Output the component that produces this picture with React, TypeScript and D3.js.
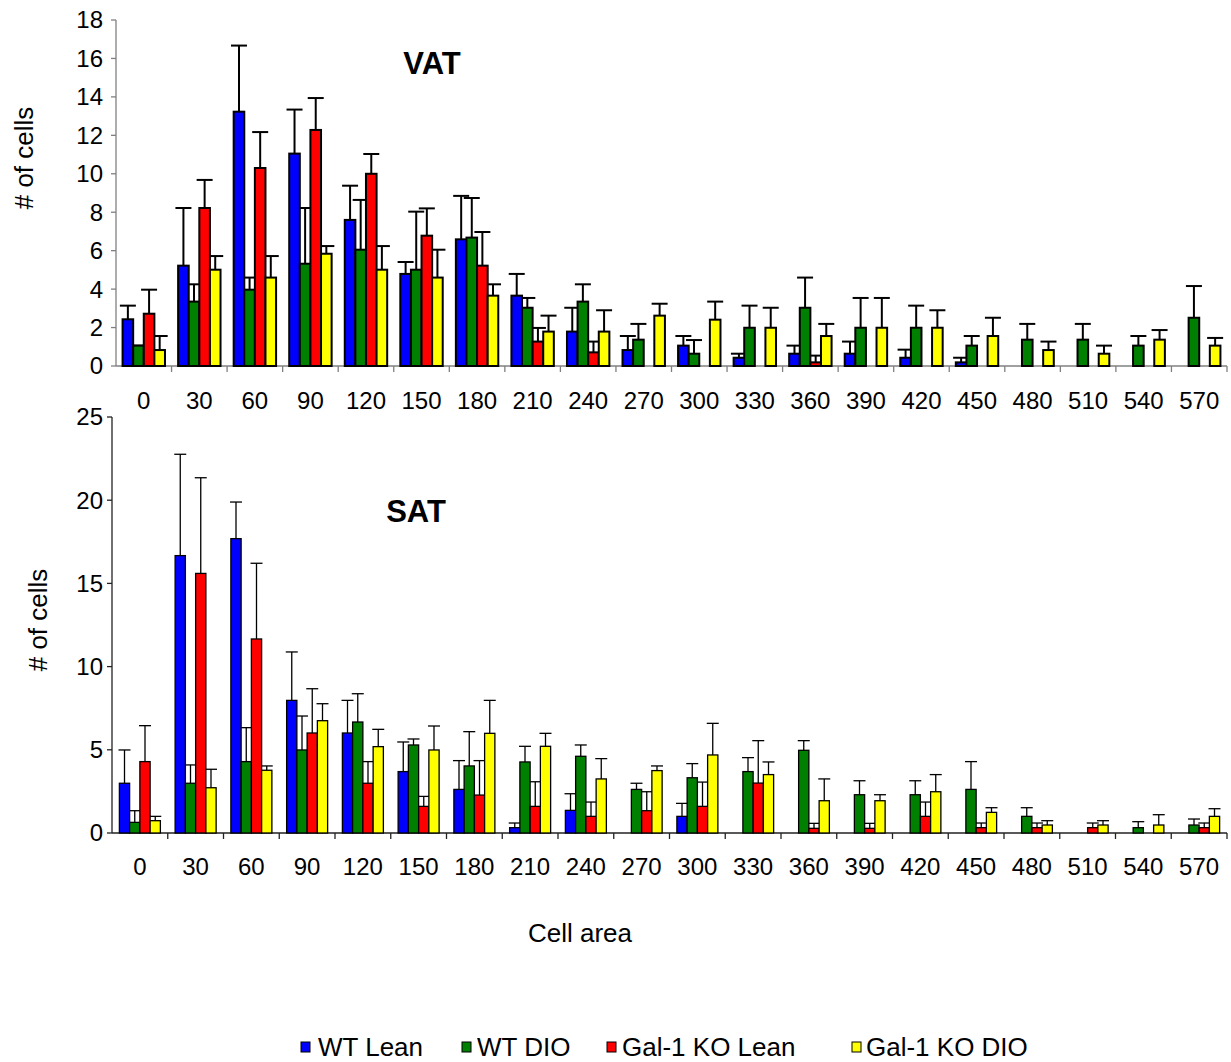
import React from 'react';
import * as d3 from 'd3';

// cell-area bins
const categories = [0, 30, 60, 90, 120, 150, 180, 210, 240, 270, 300, 330, 360, 390, 420, 450, 480, 510, 540, 570];
const seriesNames = ['WT Lean', 'WT DIO', 'Gal-1 KO Lean', 'Gal-1 KO DIO'];
const seriesColors = ['#0000ff', '#008000', '#ff0000', '#ffff00'];

// VAT
const wtLeanVat = [2.43, 5.22, 13.23, 11.05, 7.6, 4.79, 6.59, 3.66, 1.79, 0.83, 1.06, 0.43, 0.64, 0.64, 0.43, 0.19, 0, 0, 0, 0];
const wtLeanVatErr = [0.71, 3.0, 3.44, 2.29, 1.78, 0.62, 2.26, 1.13, 1.24, 0.73, 0.5, 0.21, 0.42, 0.63, 0.42, 0.24, 0, 0, 0, 0];
const wtDioVat = [1.06, 3.35, 3.97, 5.32, 6.05, 5.01, 6.68, 3.03, 3.35, 1.37, 0.64, 1.99, 3.03, 1.99, 1.99, 1.06, 1.37, 1.37, 1.06, 2.51];
const wtDioVatErr = [0, 0.9, 0.63, 2.9, 2.59, 3.02, 2.06, 0.51, 0.9, 0.82, 0.71, 1.15, 1.57, 1.55, 1.15, 0.5, 0.82, 0.82, 0.5, 1.65];
const koLeanVat = [2.72, 8.22, 10.3, 12.28, 10.0, 6.78, 5.22, 1.27, 0.71, 0, 0, 0, 0.19, 0, 0, 0, 0, 0, 0, 0];
const koLeanVatErr = [1.25, 1.46, 1.87, 1.66, 1.03, 1.42, 1.75, 0.71, 0.56, 0, 0, 0, 0.35, 0, 0, 0, 0, 0, 0, 0];
const koDioVat = [0.83, 5.01, 4.6, 5.84, 5.01, 4.6, 3.66, 1.79, 1.79, 2.62, 2.41, 1.99, 1.56, 1.99, 1.99, 1.56, 0.83, 0.64, 1.37, 1.06];
const koDioVatErr = [0.73, 0.71, 1.12, 0.4, 1.23, 1.45, 0.59, 0.83, 1.11, 0.62, 0.94, 1.04, 0.63, 1.55, 0.91, 0.95, 0.44, 0.42, 0.5, 0.4];

// SAT
const wtLeanSat = [2.99, 16.67, 17.69, 7.97, 6.01, 3.69, 2.62, 0.32, 1.36, 0, 1.0, 0, 0, 0, 0, 0, 0, 0, 0, 0];
const wtLeanSatErr = [2.0, 6.09, 2.2, 2.91, 1.96, 1.78, 1.73, 0.28, 1.0, 0, 0.78, 0, 0, 0, 0, 0, 0, 0, 0, 0];
const wtDioSat = [0.64, 2.99, 4.29, 4.99, 6.67, 5.29, 4.03, 4.27, 4.61, 2.62, 3.32, 3.69, 4.97, 2.3, 2.3, 2.62, 1.0, 0, 0.32, 0.48];
const wtDioSatErr = [0.7, 1.1, 2.04, 2.04, 1.7, 0.36, 2.06, 0.94, 0.68, 0.37, 0.85, 0.84, 0.58, 0.84, 0.84, 1.67, 0.52, 0, 0.36, 0.36];
const koLeanSat = [4.29, 15.6, 11.66, 6.01, 2.99, 1.6, 2.28, 1.6, 1.0, 1.34, 1.6, 3.0, 0.28, 0.28, 1.0, 0.32, 0.32, 0.32, 0, 0.32];
const koLeanSatErr = [2.16, 5.75, 4.55, 2.66, 1.3, 0.6, 2.07, 1.48, 0.86, 1.14, 1.46, 2.55, 0.3, 0.3, 0.86, 0.28, 0.28, 0.28, 0, 0.28];
const koDioSat = [0.74, 2.72, 3.77, 6.75, 5.19, 4.99, 5.99, 5.21, 3.25, 3.75, 4.69, 3.51, 1.94, 1.94, 2.48, 1.24, 0.48, 0.48, 0.48, 1.0];
const koDioSatErr = [0.26, 1.11, 0.26, 1.02, 1.04, 1.44, 1.98, 0.78, 1.22, 0.28, 1.9, 0.76, 1.31, 0.36, 1.03, 0.28, 0.26, 0.26, 0.62, 0.46];

const vatTicks = [0, 2, 4, 6, 8, 10, 12, 14, 16, 18];
const satTicks = [0, 5, 10, 15, 20, 25];

const FONT = '"Liberation Sans", Arial, sans-serif';

function Panel({ values, errors, ticks, yMax, x0, x1, y0, y1, axisColor, strokeW, capHalf, pad, title, titleX, titleY, labelY, ytitleX, ytitleY }) {
  const x = d3.scaleBand().domain(categories.map(String)).range([x0, x1]).paddingInner(0).paddingOuter(0);
  const inner = d3.scaleBand().domain(seriesNames).range([0, x.bandwidth()]).paddingInner(0).paddingOuter(pad);
  const y = d3.scaleLinear().domain([0, yMax]).range([y0, y1]);

  return (
    <g>
      {/* y axis */}
      <line x1={x0} x2={x0} y1={y1} y2={y0} stroke={axisColor} strokeWidth={1.3} />
      {ticks.map((t) => (
        <g key={t}>
          <line x1={x0 - 5} x2={x0} y1={y(t)} y2={y(t)} stroke={axisColor} strokeWidth={1.3} />
          <text x={103} y={y(t)} dy="0.35em" textAnchor="end" fontSize={24} fontFamily={FONT}>{t}</text>
        </g>
      ))}
      {/* x axis */}
      <line x1={x0} x2={x1} y1={y0} y2={y0} stroke={axisColor} strokeWidth={1.3} />
      {categories.map((c, i) => (
        <g key={c}>
          <line x1={x(String(c)) + x.bandwidth()} x2={x(String(c)) + x.bandwidth()} y1={y0} y2={y0 + 6} stroke={axisColor} strokeWidth={1.3} />
          <text x={x(String(c)) + x.bandwidth() / 2} y={labelY} textAnchor="middle" fontSize={24} fontFamily={FONT}>{c}</text>
        </g>
      ))}
      {/* error bars first, bars above */}
      {seriesNames.map((s, si) =>
        categories.map((c, ci) => {
          const v = values[si][ci];
          if (v <= 0) return null;
          const cx = x(String(c)) + inner(s) + inner.bandwidth() / 2;
          const top = y(v + errors[si][ci]);
          return (
            <g key={s + c}>
              <line x1={cx} x2={cx} y1={y(v)} y2={top} stroke="#000" strokeWidth={strokeW} />
              <line x1={cx - capHalf} x2={cx + capHalf} y1={top} y2={top} stroke="#000" strokeWidth={strokeW} />
            </g>
          );
        })
      )}
      {seriesNames.map((s, si) =>
        categories.map((c, ci) => {
          const v = values[si][ci];
          return (
            <rect
              key={'b' + s + c}
              x={x(String(c)) + inner(s)}
              y={y(v)}
              width={inner.bandwidth()}
              height={y0 - y(v)}
              fill={seriesColors[si]}
              stroke="#000"
              strokeWidth={strokeW}
            />
          );
        })
      )}
      <text x={titleX} y={titleY} dy="0.35em" textAnchor="middle" fontSize={31} fontWeight="bold" fontFamily={FONT}>{title}</text>
      <text transform={`translate(${ytitleX},${ytitleY}) rotate(-90)`} dy="0.35em" textAnchor="middle" fontSize={26} fontFamily={FONT}># of cells</text>
    </g>
  );
}

export default function App() {
  const legendItems = [
    { sx: 301, tx: 318 },
    { sx: 462, tx: 477 },
    { sx: 607, tx: 622 },
    { sx: 852, tx: 866 },
  ];
  return (
    <div style={{ position: 'absolute', left: 0, top: 0 }}>
      <svg width={1231} height={1062} style={{ display: 'block', background: '#fff' }}>
        <Panel
          values={[wtLeanVat, wtDioVat, koLeanVat, koDioVat]}
          errors={[wtLeanVatErr, wtDioVatErr, koLeanVatErr, koDioVatErr]}
          ticks={vatTicks}
          yMax={18}
          x0={116}
          x1={1227}
          y0={366}
          y1={20}
          axisColor="#808080"
          strokeW={2}
          capHalf={8}
          pad={0.62}
          title="VAT"
          titleX={432}
          titleY={63}
          labelY={409}
          ytitleX={24}
          ytitleY={158}
        />
        <Panel
          values={[wtLeanSat, wtDioSat, koLeanSat, koDioSat]}
          errors={[wtLeanSatErr, wtDioSatErr, koLeanSatErr, koDioSatErr]}
          ticks={satTicks}
          yMax={25}
          x0={112}
          x1={1227}
          y0={833}
          y1={417}
          axisColor="#222"
          strokeW={1.3}
          capHalf={6}
          pad={0.72}
          title="SAT"
          titleX={416}
          titleY={511}
          labelY={875}
          ytitleX={38}
          ytitleY={620}
        />
        <text x={580} y={933} dy="0.35em" textAnchor="middle" fontSize={26} fontFamily={FONT}>Cell area</text>
        {seriesNames.map((s, i) => (
          <g key={s}>
            <rect x={legendItems[i].sx} y={1042} width={9} height={10} fill={seriesColors[i]} stroke="#000" strokeWidth={1} />
            <text x={legendItems[i].tx} y={1056} fontSize={26} fontFamily={FONT}>{s}</text>
          </g>
        ))}
      </svg>
    </div>
  );
}
